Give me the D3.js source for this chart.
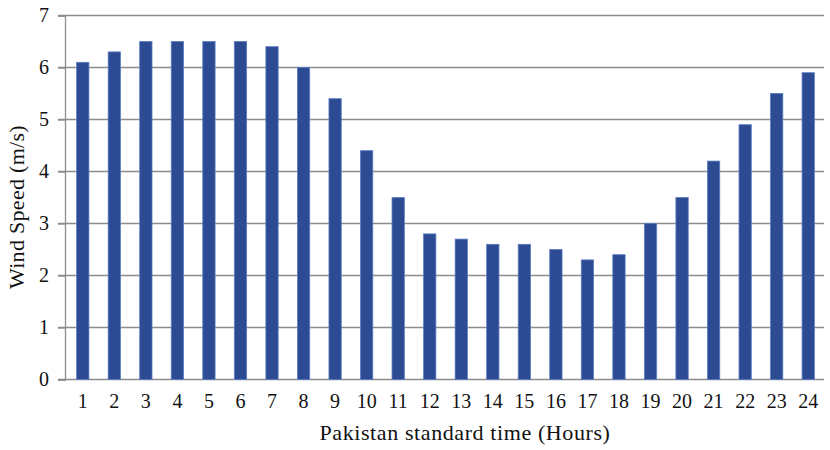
<!DOCTYPE html>
<html>
<head>
<meta charset="utf-8">
<script src="https://cdn.jsdelivr.net/npm/d3@7"></script>
<style>
  body { margin: 0; background: #fff; }
  svg text { font-family: 'Liberation Serif', 'Times New Roman', Times, serif; }
</style>
</head>
<body>
<div id="chart"></div>
<script>
// hours of the day and mean wind speed
const hours = ["1", "2", "3", "4", "5", "6", "7", "8", "9", "10", "11", "12",
    "13", "14", "15", "16", "17", "18", "19", "20", "21", "22", "23", "24"];
const windSpeed = [6.1, 6.3, 6.5, 6.5, 6.5, 6.5, 6.4, 6.0, 5.4, 4.4, 3.5, 2.8,
    2.7, 2.6, 2.6, 2.5, 2.3, 2.4, 3.0, 3.5, 4.2, 4.9, 5.5, 5.9];
const yTicks = [0, 1, 2, 3, 4, 5, 6, 7];

function drawChart() {
    const width = 830, height = 450;
    const axisX = 65, plotRight = 824;

    const svg = d3.select("#chart").append("svg")
        .attr("width", width)
        .attr("height", height);

    const x = d3.scaleBand()
        .domain(hours)
        .range([67, plotRight])
        .paddingInner(0.61)
        .paddingOuter(0.305);

    const y = d3.scaleLinear()
        .domain([0, 7])
        .range([379.5, 15.5]);

    // gridlines
    svg.append("g")
        .selectAll("line")
        .data(yTicks)
        .join("line")
        .attr("x1", axisX - 7)
        .attr("x2", plotRight)
        .attr("y1", d => y(d))
        .attr("y2", d => y(d))
        .attr("stroke", "#8c8c8c")
        .attr("stroke-width", 1.3);

    // y axis labels
    const yAxis = svg.append("g")
        .attr("transform", `translate(${axisX},0)`)
        .call(d3.axisLeft(y).tickValues(yTicks).tickSize(7).tickPadding(9).tickFormat(d3.format("d")));
    yAxis.attr("font-family", null);
    yAxis.select(".domain").attr("stroke", "#8c8c8c").attr("stroke-width", 1.3);
    yAxis.selectAll(".tick line").attr("stroke", "#8c8c8c").attr("stroke-width", 1.3);
    yAxis.selectAll("text")
        .attr("font-size", 20)
        .attr("fill", "#111");

    // bars
    svg.append("g")
        .selectAll("rect")
        .data(windSpeed)
        .join("rect")
        .attr("x", (d, i) => x(hours[i]))
        .attr("y", d => y(d))
        .attr("width", x.bandwidth())
        .attr("height", d => y(0) - y(d))
        .attr("fill", "#2d4b92")
        .attr("stroke", "#5b7dc4")
        .attr("stroke-width", 0.8);

    // x axis
    const xAxis = svg.append("g")
        .attr("transform", `translate(0,${y(0)})`)
        .call(d3.axisBottom(x).tickSize(0).tickPadding(14));
    xAxis.attr("font-family", null);
    xAxis.select(".domain").remove();
    xAxis.selectAll("text")
        .attr("font-size", 20)
        .attr("fill", "#111");

    // axis titles
    svg.append("text")
        .attr("x", 465)
        .attr("y", 440)
        .attr("text-anchor", "middle")
        .attr("font-size", 22)
        .attr("letter-spacing", 0.6)
        .attr("fill", "#111")
        .text("Pakistan standard time (Hours)");

    svg.append("text")
        .attr("transform", "translate(24,207) rotate(-90)")
        .attr("text-anchor", "middle")
        .attr("font-size", 22)
        .attr("letter-spacing", 0.3)
        .attr("fill", "#111")
        .text("Wind Speed (m/s)");
}

drawChart();
</script>
</body>
</html>
